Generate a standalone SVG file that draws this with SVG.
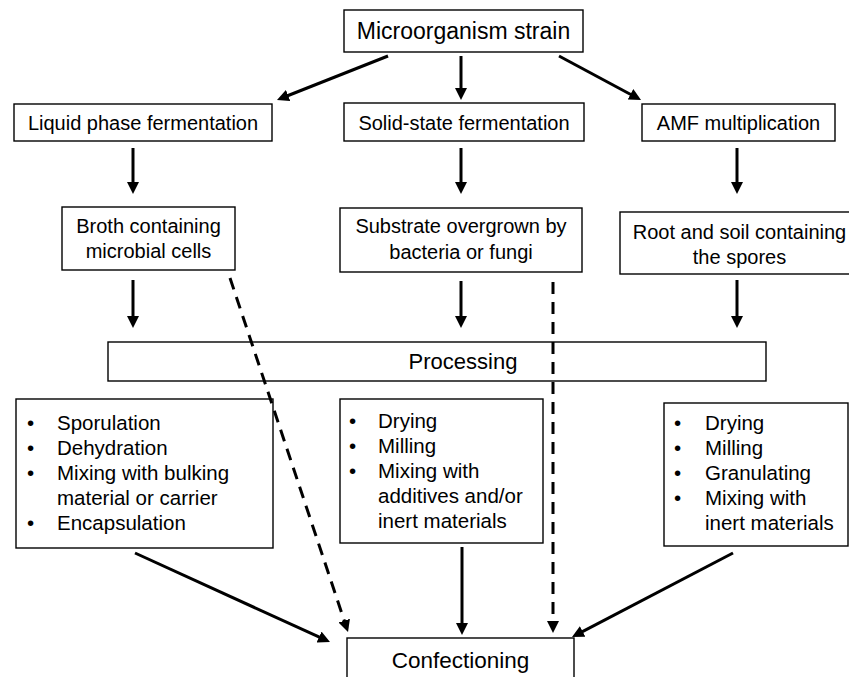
<svg xmlns="http://www.w3.org/2000/svg" width="849" height="677" viewBox="0 0 849 677">
<style>
.box{fill:#fff;stroke:#000;stroke-width:1.4}
text{font-family:"Liberation Sans",Arial,sans-serif;fill:#000}
.t{font-size:20px;text-anchor:middle}
.big{font-size:22.5px;text-anchor:middle}
.li{font-size:20.5px}
.c{stroke:#000;stroke-width:3;fill:none}
.d{stroke-dasharray:12 8}
</style>
<defs>
<marker id="ah" viewBox="0 0 12 12" refX="4" refY="6" markerWidth="12" markerHeight="12" markerUnits="userSpaceOnUse" orient="auto">
<path d="M0,0 L12,6 L0,12 z" fill="#000"/>
</marker>
</defs>
<g id="n-strain"><rect class="box" x="344" y="10" width="239" height="42"/><text class="big" x="463.5" y="39" style="font-size:23px">Microorganism strain</text></g>
<g id="n-liquid"><rect class="box" x="14" y="104" width="258" height="37"/><text class="t" x="143" y="130">Liquid phase fermentation</text></g>
<g id="n-solid"><rect class="box" x="344" y="103" width="240" height="38"/><text class="t" x="464" y="130">Solid-state fermentation</text></g>
<g id="n-amf"><rect class="box" x="642" y="104" width="193" height="37"/><text class="t" x="738.5" y="130">AMF multiplication</text></g>
<g id="n-broth"><rect class="box" x="62" y="207" width="173" height="63"/><text class="t" x="148.5" y="233">Broth containing</text><text class="t" x="148.5" y="258">microbial cells</text></g>
<g id="n-substrate"><rect class="box" x="340" y="208" width="242" height="64"/><text class="t" x="461" y="233">Substrate overgrown by</text><text class="t" x="461" y="259">bacteria or fungi</text></g>
<g id="n-root"><rect class="box" x="620" y="212" width="232" height="62"/><text class="t" x="739.5" y="239">Root and soil containing</text><text class="t" x="739.5" y="264">the spores</text></g>
<g id="n-processing"><rect class="box" x="108" y="342" width="658" height="39"/><text class="big" x="463" y="369" style="font-size:22px">Processing</text></g>
<g id="n-list-left"><rect class="box" x="16" y="399" width="257" height="149"/>
<text class="li" x="27" y="430">•</text><text class="li" x="57" y="430">Sporulation</text>
<text class="li" x="27" y="455">•</text><text class="li" x="57" y="455">Dehydration</text>
<text class="li" x="27" y="480">•</text><text class="li" x="57" y="480">Mixing with bulking</text>
<text class="li" x="57" y="505">material or carrier</text>
<text class="li" x="27" y="530">•</text><text class="li" x="57" y="530">Encapsulation</text></g>
<g id="n-list-mid"><rect class="box" x="340" y="399" width="203" height="144"/>
<text class="li" x="349" y="428">•</text><text class="li" x="378" y="428">Drying</text>
<text class="li" x="349" y="453">•</text><text class="li" x="378" y="453">Milling</text>
<text class="li" x="349" y="478">•</text><text class="li" x="378" y="478">Mixing with</text>
<text class="li" x="378" y="503">additives and/or</text>
<text class="li" x="378" y="528">inert materials</text></g>
<g id="n-list-right"><rect class="box" x="664" y="403" width="184" height="143"/>
<text class="li" x="674" y="430">•</text><text class="li" x="705" y="430">Drying</text>
<text class="li" x="674" y="455">•</text><text class="li" x="705" y="455">Milling</text>
<text class="li" x="674" y="480">•</text><text class="li" x="705" y="480">Granulating</text>
<text class="li" x="674" y="505">•</text><text class="li" x="705" y="505">Mixing with</text>
<text class="li" x="705" y="530">inert materials</text></g>
<g id="n-confectioning"><rect class="box" x="347" y="638" width="227" height="45"/><text class="big" x="460.5" y="668">Confectioning</text></g>
<g id="connectors">
<line class="c" x1="388" y1="56" x2="284.4" y2="97" marker-end="url(#ah)"/>
<line class="c" x1="461" y1="56" x2="461" y2="92" marker-end="url(#ah)"/>
<line class="c" x1="559" y1="56" x2="634" y2="96.2" marker-end="url(#ah)"/>
<line class="c" x1="133" y1="148" x2="133" y2="186" marker-end="url(#ah)"/>
<line class="c" x1="461" y1="148" x2="461" y2="186" marker-end="url(#ah)"/>
<line class="c" x1="737" y1="148" x2="737" y2="186" marker-end="url(#ah)"/>
<line class="c" x1="133" y1="280" x2="133" y2="320" marker-end="url(#ah)"/>
<line class="c" x1="461" y1="281" x2="461" y2="320" marker-end="url(#ah)"/>
<line class="c" x1="737" y1="280" x2="737" y2="320" marker-end="url(#ah)"/>
<line class="c" x1="135" y1="553" x2="322.7" y2="638.7" marker-end="url(#ah)"/>
<line class="c" x1="462" y1="547" x2="462" y2="627" marker-end="url(#ah)"/>
<line class="c" x1="733" y1="553" x2="579.1" y2="633.3" marker-end="url(#ah)"/>
<line class="c d" x1="230" y1="278" x2="345.5" y2="624.4" marker-end="url(#ah)"/>
<line class="c d" x1="553" y1="282" x2="553" y2="625" marker-end="url(#ah)"/>
</g>
</svg>
